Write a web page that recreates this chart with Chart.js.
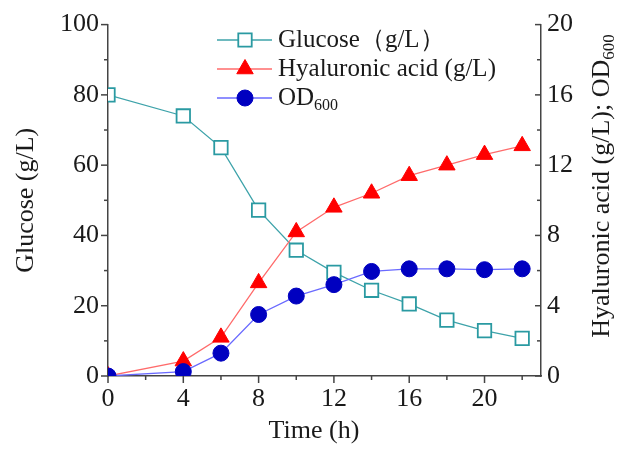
<!DOCTYPE html>
<html><head><meta charset="utf-8">
<script src="https://cdn.jsdelivr.net/npm/chart.js@4"></script>
<style>html,body{margin:0;padding:0;background:#fff}#wrap{width:619px;height:449px;position:relative}</style>
</head><body><div id="wrap"><canvas id="c"></canvas></div>
<script>
const times=[0,4,6,8,10,12,14,16,18,20,22];
const glucose=[80,74,65,47.2,35.8,29.5,24.4,20.5,15.9,12.9,10.7];
const hyaluronic=[0,0.85,2.2,5.3,8.2,9.6,10.4,11.4,12.0,12.6,13.1];
const od600=[0,0.25,1.3,3.5,4.55,5.2,5.95,6.1,6.1,6.05,6.1];
const xTicks=[0,4,8,12,16,20];
const leftTicks=[0,20,40,60,80,100];
const rightTicks=[0,4,8,12,16,20];
const legendLabels=['Glucose（g/L）','Hyaluronic acid (g/L)','OD'];

const FONT='"Liberation Serif","Times New Roman",serif';
const TXT='#1a1a1a';
const AX='#444';

function pts(ys){return times.map((t,i)=>({x:t,y:ys[i]}));}

const datasets=[
 {label:'OD600',data:pts(od600),yAxisID:'y1',borderColor:'#6a6aff',borderWidth:1.3,pointStyle:'circle',pointRadius:8,pointBackgroundColor:'#0000c0',pointBorderColor:'#0000c0',pointBorderWidth:1,tension:0},
 {label:'Hyaluronic acid',data:pts(hyaluronic),yAxisID:'y1',borderColor:'#ff6b6b',borderWidth:1.3,pointStyle:'triangle',pointRadius:9.5,pointBackgroundColor:'#ff0000',pointBorderColor:'#ff0000',pointBorderWidth:1,tension:0},
 {label:'Glucose',data:pts(glucose),yAxisID:'y',borderColor:'#3ea3aa',borderWidth:1.3,pointStyle:'rect',pointRadius:9.5,pointBackgroundColor:'#ffffff',pointBorderColor:'#2a9aa2',pointBorderWidth:1.8,tension:0}
];

function tickCb(list){return function(v){return list.includes(v)?String(v):'';};}

const deco={
 id:'deco',
 afterDraw(chart){
  const ctx=chart.ctx, a=chart.chartArea, sx=chart.scales.x, sy=chart.scales.y, sr=chart.scales.y1;
  ctx.save();
  ctx.strokeStyle=AX; ctx.lineWidth=1.5;
  for(let v=0;v<=22;v+=2){const x=sx.getPixelForValue(v);const L=(v%4===0)?7:4;ctx.beginPath();ctx.moveTo(x,a.bottom);ctx.lineTo(x,a.bottom+L);ctx.stroke();}
  for(let v=0;v<=100;v+=10){const y=sy.getPixelForValue(v);const L=(v%20===0)?7:4;ctx.beginPath();ctx.moveTo(a.left,y);ctx.lineTo(a.left-L,y);ctx.stroke();}
  for(let v=0;v<=20;v+=2){const y=sr.getPixelForValue(v);const L=(v%4===0)?6:4;ctx.beginPath();ctx.moveTo(a.right,y);ctx.lineTo(a.right-L,y);ctx.stroke();}
  ctx.fillStyle=TXT; ctx.textBaseline='middle'; ctx.textAlign='center';
  ctx.font='26px '+FONT;
  ctx.fillText('Time (h)',314,431);
  ctx.save();ctx.translate(26,(a.top+a.bottom)/2);ctx.rotate(-Math.PI/2);ctx.fillText('Glucose (g/L)',0,0);ctx.restore();
  ctx.save();ctx.translate(602,186);ctx.rotate(-Math.PI/2);
  const main='Hyaluronic acid (g/L); OD', sub='600';
  ctx.font='26px '+FONT; const w1=ctx.measureText(main).width;
  ctx.font='17px '+FONT; const w2=ctx.measureText(sub).width;
  const start=-(w1+w2)/2;
  ctx.textAlign='left';
  ctx.font='26px '+FONT; ctx.fillText(main,start,0);
  ctx.font='17px '+FONT; ctx.fillText(sub,start+w1,8);
  ctx.restore();
  const rows=[40,69,98];
  const order=[2,1,0];
  ctx.textAlign='left'; ctx.textBaseline='middle';
  rows.forEach((ry,i)=>{
    const ds=chart.data.datasets[order[i]];
    ctx.strokeStyle=ds.borderColor; ctx.lineWidth=ds.borderWidth;
    ctx.beginPath();ctx.moveTo(217,ry);ctx.lineTo(272,ry);ctx.stroke();
    ctx.fillStyle=ds.pointBackgroundColor; ctx.strokeStyle=ds.pointBorderColor; ctx.lineWidth=ds.pointBorderWidth;
    Chart.helpers.drawPoint(ctx,{pointStyle:ds.pointStyle,radius:ds.pointRadius,rotation:0,borderWidth:ds.pointBorderWidth},245,ry);
    ctx.fillStyle=TXT; ctx.font='25px '+FONT;
    ctx.fillText(legendLabels[i],278,ry);
    if(i===2){const w=ctx.measureText('OD').width;ctx.font='16px '+FONT;ctx.fillText('600',278+w,ry+8);}
  });
  ctx.restore();
 }
};

new Chart(document.getElementById('c'),{
 type:'line',
 data:{datasets},
 options:{
  responsive:true,maintainAspectRatio:false,animation:false,
  layout:{padding:{top:24,left:0,right:0,bottom:0}},
  plugins:{legend:{display:false},tooltip:{enabled:false}},
  scales:{
   x:{type:'linear',min:0,max:23,afterFit(s){s.height=73;},
      ticks:{stepSize:2,autoSkip:false,maxRotation:0,callback:tickCb(xTicks),color:TXT,font:{family:FONT,size:26},padding:8},
      grid:{drawOnChartArea:false,drawTicks:false},border:{display:true,color:AX,width:1.5}},
   y:{type:'linear',position:'left',min:0,max:100,afterFit(s){s.width=108;},
      ticks:{stepSize:10,autoSkip:false,callback:tickCb(leftTicks),color:TXT,font:{family:FONT,size:26},padding:9},
      grid:{drawOnChartArea:false,drawTicks:false},border:{display:true,color:AX,width:1.5}},
   y1:{type:'linear',position:'right',min:0,max:20,afterFit(s){s.width=78;},
      ticks:{stepSize:2,autoSkip:false,callback:tickCb(rightTicks),color:TXT,font:{family:FONT,size:26},padding:6},
      grid:{drawOnChartArea:false,drawTicks:false},border:{display:true,color:AX,width:1.5}}
  }
 },
 plugins:[deco]
});
</script></body></html>
